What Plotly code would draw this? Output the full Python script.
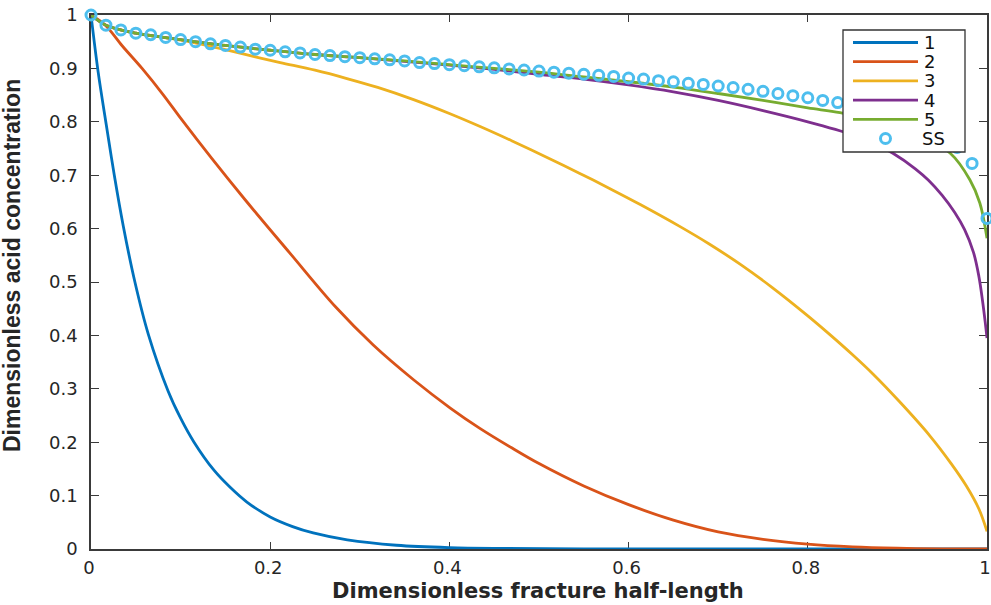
import numpy as np
import plotly.graph_objects as go

# ---- data -------------------------------------------------------------
# transient profiles 1..5 (x = dimensionless fracture half-length)
c1_x = [0, 0.008, 0.017, 0.026, 0.036, 0.049, 0.064, 0.086, 0.100, 0.115, 0.137,
        0.155, 0.174, 0.200, 0.225, 0.248, 0.286, 0.341, 0.400, 0.460, 0.550,
        0.700, 1.0]
c1_y = [1.0, 0.893, 0.795, 0.700, 0.605, 0.500, 0.402, 0.296, 0.245, 0.200, 0.148,
        0.116, 0.088, 0.060, 0.042, 0.030, 0.017, 0.007, 0.0025, 0.001, 0.0003,
        0.0, 0.0]

c2_x = [0, 0.016, 0.035, 0.057, 0.080, 0.1015, 0.135, 0.172, 0.222, 0.2726, 0.315,
        0.360, 0.401, 0.434, 0.470, 0.500, 0.550, 0.600, 0.650, 0.700, 0.750,
        0.800, 0.850, 0.900, 0.950, 1.0]
c2_y = [1.0, 0.981, 0.942, 0.900, 0.852, 0.8035, 0.731, 0.654, 0.554, 0.454, 0.382,
        0.317, 0.264, 0.226, 0.189, 0.160, 0.118, 0.083, 0.054, 0.032, 0.018,
        0.009, 0.004, 0.0015, 0.0003, 0.0]

c3_x = [0, 0.0167, 0.05, 0.10, 0.124, 0.15, 0.18, 0.2112, 0.25, 0.2856, 0.32, 0.36,
        0.40, 0.4343, 0.47, 0.509, 0.545, 0.583, 0.613, 0.657, 0.69, 0.7244, 0.76,
        0.799, 0.825, 0.85, 0.873, 0.902, 0.936, 0.960, 0.977, 0.991, 1.0]
c3_y = [1.0, 0.981, 0.966, 0.953, 0.945, 0.935, 0.923, 0.911, 0.8966, 0.881, 0.8643,
        0.8415, 0.8155, 0.7911, 0.7641, 0.7333, 0.7038, 0.6715, 0.6451, 0.6042,
        0.5712, 0.5334, 0.490, 0.438, 0.401, 0.3637, 0.3273, 0.2766, 0.2125, 0.160,
        0.118, 0.075, 0.033]

c4_x = [0, 0.0167, 0.05, 0.10, 0.15, 0.20, 0.25, 0.30, 0.35, 0.40, 0.45, 0.50, 0.55,
        0.60, 0.65, 0.70, 0.75, 0.80, 0.85, 0.87, 0.895, 0.92, 0.935, 0.95, 0.964,
        0.975, 0.985, 0.991, 0.995, 0.998, 1.0]
c4_y = [1.0, 0.981, 0.966, 0.954, 0.943, 0.934, 0.926, 0.920, 0.913, 0.906, 0.898,
        0.889, 0.880, 0.869, 0.856, 0.840, 0.821, 0.800, 0.776, 0.763, 0.741, 0.712,
        0.690, 0.662, 0.630, 0.598, 0.555, 0.510, 0.465, 0.425, 0.395]

c5_x = [0, 0.0167, 0.05, 0.10, 0.15, 0.20, 0.25, 0.30, 0.35, 0.40, 0.45, 0.50, 0.55,
        0.60, 0.65, 0.70, 0.75, 0.80, 0.836, 0.88, 0.92, 0.959, 0.981, 0.992, 1.0]
c5_y = [1.0, 0.981, 0.966, 0.954, 0.943, 0.934, 0.926, 0.920, 0.914, 0.907, 0.900,
        0.893, 0.884, 0.875, 0.865, 0.853, 0.840, 0.826, 0.817, 0.800, 0.778, 0.741,
        0.691, 0.648, 0.582]

# steady-state solution, sampled every 1/60
ss_x = np.linspace(0.0, 1.0, 61)
ss_y = [1.000, 0.981, 0.972, 0.966, 0.963, 0.958, 0.954, 0.950, 0.946, 0.943,
        0.940, 0.936, 0.934, 0.931, 0.929, 0.926, 0.924, 0.922, 0.920, 0.918,
        0.916, 0.914, 0.911, 0.909, 0.907, 0.905, 0.903, 0.901, 0.899, 0.897,
        0.895, 0.893, 0.891, 0.889, 0.887, 0.885, 0.882, 0.880, 0.877, 0.875,
        0.872, 0.870, 0.867, 0.864, 0.861, 0.857, 0.853, 0.849, 0.845, 0.840,
        0.836, 0.831, 0.825, 0.818, 0.810, 0.800, 0.788, 0.773, 0.752, 0.722,
        0.619]

names = ["1", "2", "3", "4", "5"]
colors = ["#0072BD", "#D95319", "#EDB120", "#7E2F8E", "#77AC30"]
xs_all = [c1_x, c2_x, c3_x, c4_x, c5_x]
ys_all = [c1_y, c2_y, c3_y, c4_y, c5_y]
ss_name, ss_color = "SS", "#4DBEEE"

x_title = "Dimensionless fracture half-length"
y_title = "Dimensionless acid concentration"

# ---- figure -----------------------------------------------------------
W, H = 991, 605
ML, MR, MT, MB = 91, 4, 15, 56
PW, PH = W - ML - MR, H - MT - MB


def px_x(px):
    """pixel column -> paper x"""
    return (px - ML) / PW


def px_y(py):
    """pixel row -> paper y"""
    return 1 - (py - MT) / PH


fig = go.Figure()
for name, xs, ys, col in zip(names, xs_all, ys_all, colors):
    fig.add_trace(go.Scatter(
        x=xs, y=ys, name=name, mode="lines",
        line=dict(color=col, width=2.8, shape="spline", smoothing=1.0),
        cliponaxis=False,
    ))

fig.add_trace(go.Scatter(
    x=ss_x, y=ss_y, name=ss_name, mode="markers",
    marker=dict(symbol="circle-open", size=10, color=ss_color,
                line=dict(width=3, color=ss_color)),
    cliponaxis=False,
))

axis_col = "#3a3a3a"
text_col = "#262626"
tick_font = dict(family="DejaVu Sans", size=18, color=text_col)

fig.update_xaxes(
    range=[0, 1], dtick=0.2, tick0=0, automargin=False,
    showline=True, linecolor=axis_col, linewidth=1.5, mirror="ticks",
    ticks="inside", ticklen=7, tickwidth=1.3, tickcolor=axis_col,
    showgrid=False, zeroline=False, layer="below traces",
    tickfont=tick_font, ticklabelstandoff=2, ticklabelshift=-2,
    ticklabeloverflow="allow",
)
fig.update_yaxes(
    range=[0, 1], dtick=0.1, tick0=0, automargin=False,
    showline=True, linecolor=axis_col, linewidth=1.5, mirror="ticks",
    ticks="inside", ticklen=8, tickwidth=1.3, tickcolor=axis_col,
    showgrid=False, zeroline=False, layer="below traces",
    tickfont=tick_font, ticklabelstandoff=8, ticklabeloverflow="allow",
)

# axis labels
fig.add_annotation(
    text="<b>" + x_title + "</b>", xref="paper", yref="paper",
    x=px_x(538), y=px_y(591), xanchor="center", yanchor="middle", showarrow=False,
    font=dict(family="DejaVu Sans", size=21, color=text_col),
)
fig.add_annotation(
    text="<b>" + y_title + "</b>",
    textangle=-90, xref="paper", yref="paper",
    x=px_x(12), y=px_y(266), xanchor="center", yanchor="middle", showarrow=False,
    font=dict(family="Liberation Sans", size=23, color=text_col),
)

# legend box (top right, drawn over the curves)
box_l, box_r, box_t, box_b = 843, 965, 30, 152
shapes = [dict(type="rect", xref="paper", yref="paper", layer="above",
               x0=px_x(box_l), x1=px_x(box_r), y0=px_y(box_b), y1=px_y(box_t),
               fillcolor="white", line=dict(color="#333333", width=1.3))]
row0, row_step = 42.5, 19.2
leg_font = dict(family="DejaVu Sans", size=18, color="#111111")
for i, (name, col) in enumerate(zip(names, colors)):
    ry = row0 + i * row_step
    shapes.append(dict(type="line", xref="paper", yref="paper", layer="above",
                       x0=px_x(853), x1=px_x(918), y0=px_y(ry), y1=px_y(ry),
                       line=dict(color=col, width=2.8)))
    fig.add_annotation(text=name, xref="paper", yref="paper", x=px_x(922),
                       y=px_y(ry), xanchor="left", yanchor="middle",
                       showarrow=False, font=leg_font)
ry = row0 + 5 * row_step
shapes.append(dict(type="circle", xref="paper", yref="paper", layer="above",
                   x0=px_x(880.5), x1=px_x(890.5), y0=px_y(ry + 5), y1=px_y(ry - 5),
                   line=dict(color=ss_color, width=3)))
fig.add_annotation(text=ss_name, xref="paper", yref="paper", x=px_x(920),
                   y=px_y(ry), xanchor="left", yanchor="middle",
                   showarrow=False, font=leg_font)

fig.update_layout(
    width=W, height=H,
    margin=dict(l=ML, r=MR, t=MT, b=MB),
    paper_bgcolor="white", plot_bgcolor="white",
    showlegend=False,
    shapes=shapes,
)

fig.write_html("out.html")
